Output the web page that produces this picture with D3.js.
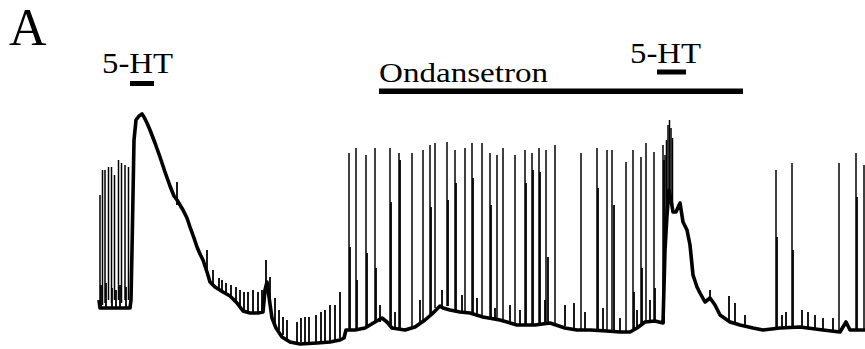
<!DOCTYPE html>
<html>
<head>
<meta charset="utf-8">
<script src="https://cdn.jsdelivr.net/npm/d3@7"></script>
<style>
  html, body { margin: 0; padding: 0; background: #fff; }
  svg { display: block; }
  .lbl { font-family: "Liberation Serif", "Tinos", "Nimbus Roman", "Nimbus Roman No9 L", "FreeSerif", "Noto Serif", "DejaVu Serif", "Noto Serif CJK SC", "Noto Serif CJK JP", "Times New Roman", Times, serif; fill: #000; }
</style>
</head>
<body>
<svg id="chart" width="865" height="349"></svg>
<script>
// Membrane potential recording: time in s, voltage in mV.

// Slow membrane potential envelope [t, mV]
const baseline = [
  [0, -65], [1, -67], [31, -67], [32, -65], [33, -52.5], [35, -25], [37, -20],
  [40, -19], [43, -18.5], [45, -19.25], [48, -20.75], [51, -22.5], [56, -25.75],
  [61, -29.25], [66, -33], [71, -36.5], [75, -39], [78, -40], [81, -41.25],
  [84, -42.5], [88, -44.5], [91, -46.75], [95, -49.5], [98, -51.75], [101, -53.5],
  [104, -55], [108, -58], [111, -60.5], [116, -61.75], [124, -63], [131, -64],
  [138, -65.75], [144, -67.75], [151, -68.25], [159, -68.25], [164, -68],
  [166, -62.5], [168, -60.5], [170, -64.25], [173, -69.5], [177, -72],
  [183, -74.25], [191, -75.5], [201, -76], [218, -75.75], [231, -75.5],
  [241, -75], [245, -74.5], [247, -72.5], [256, -72.5], [266, -72], [276, -70.5],
  [283, -69.5], [288, -70.5], [293, -72], [306, -72.5], [316, -71.75], [326, -70],
  [333, -68.5], [338, -67.25], [341, -66.5], [344, -67], [351, -67.5], [361, -68],
  [371, -68.25], [384, -69.25], [401, -70], [418, -71.25], [436, -71.25],
  [451, -70.75], [466, -72], [478, -72.5], [491, -72.5], [508, -72.75], [521, -73],
  [531, -73], [538, -72], [546, -70.5], [556, -70.25], [564, -70.75], [566, -52.5],
  [568, -43.75], [570, -37.5], [572, -40], [574, -43], [577, -43], [581, -40.75],
  [584, -45.5], [588, -47.5], [591, -51.25], [594, -58.75], [598, -61.75],
  [601, -63.25], [606, -65.5], [611, -64.5], [616, -66.25], [621, -68.75],
  [631, -70.5], [641, -71.25], [654, -72], [664, -72.5], [681, -72], [701, -71.75],
  [724, -72.5], [741, -73], [747, -70.5], [751, -72.5], [766, -72.5]
];

// Action potentials [t, foot mV, peak mV]
const spikes = [
  [1, -65, -38.75], [3.5, -66.25, -32.5], [6, -65.75, -32.5], [9.5, -65, -31.75],
  [12.5, -65.75, -31.75], [15.5, -65, -33.75], [19.5, -65, -30], [22.5, -65.75, -30.75],
  [26, -65, -31.25], [29.5, -65, -31.75],
  [250, -72.5, -28.25], [257, -72.5, -27], [267, -72, -28.75], [276, -70.5, -27],
  [291, -71.5, -27], [300, -72.5, -28.25], [313, -72, -28.25], [324, -70.5, -27.5],
  [331, -69, -26.25], [336, -67, -25.75], [348, -66.5, -25.5], [356, -67.5, -27.5],
  [366, -68, -27], [373, -68.5, -25.75], [383, -69, -25.75], [391, -69.5, -28.25],
  [398, -70, -28.75], [404, -70, -27], [416, -71, -28.75], [426, -71.25, -27.5],
  [433, -71.25, -28.25], [440, -71, -27], [447, -70.75, -27.5], [456, -71, -26.25],
  [482, -72.5, -28.25], [498, -72.5, -27], [508, -72.75, -27.5], [513, -72.75, -27.5],
  [527, -73, -30.5], [534, -72.5, -27.5], [542, -71.5, -29.25], [547, -70.5, -25.75],
  [555, -70.25, -28],
  [564, -70.75, -26.25], [566, -52.5, -28.75], [567.5, -47, -25], [569, -40, -21.25],
  [570.5, -38, -20], [572, -40, -22], [573.5, -43, -24.5],
  [677, -72, -32.5], [693, -72, -30.75], [740, -73, -30.75], [757, -72.5, -28.25],
  [765, -72.5, -31.25]
];

// Partially captured spikes riding next to full ones [t, foot mV, peak mV]
const partialSpikes = [
  [251, -72.5, -51.75], [258, -72.5, -60], [268, -72, -53.25], [277, -70.5, -57],
  [292, -71.5, -40.5], [301, -72.5, -30], [332, -69, -41.75], [349, -66.5, -40],
  [357, -67.5, -35.75], [374, -68.5, -34.5], [392, -69.5, -41.25], [427, -71.25, -35.75],
  [434, -71.25, -32.5], [441, -71, -33], [449, -70.75, -54.25], [499, -72.5, -37],
  [515, -72.75, -41.25], [535, -72.5, -63], [543, -71.5, -57], [556, -70.25, -62],
  [565, -70.75, -30], [678, -72, -49.25], [694, -72, -52.5], [758, -72.5, -39.25]
];

// Small synaptic potentials [t, foot mV, peak mV]
const epsps = [
  [2, -67, -61.25], [7, -67, -60.75], [13, -67, -62], [17, -67, -62.5], [21, -67, -61.25],
  [27, -67, -61.75],
  [78, -41.25, -35.5], [108, -57.5, -52.5], [114, -61.25, -57.5], [120, -62.5, -59.5],
  [123, -62.75, -60], [127, -63.25, -60.75], [132, -64.25, -61.25], [137, -65.5, -61.75],
  [141, -66.25, -62.5], [145, -67.5, -63], [149, -68, -63], [154, -68, -62.5],
  [159, -68, -63], [163, -68, -62.5], [167, -61.25, -55], [171, -65, -59.25],
  [176, -70.75, -64.5], [180, -72.5, -67.5], [184, -73.75, -69.25], [188, -75, -70],
  [198, -75.5, -70.5], [202, -75.5, -69.5], [206, -75.5, -69.25], [210, -75.5, -69.25],
  [217, -75.5, -68.75], [222, -75.5, -68], [226, -75.25, -67.5], [231, -75.25, -66.25],
  [236, -75, -66.25], [241, -74.5, -63],
  [281, -70.5, -66.25], [296, -72, -68], [321, -70.5, -65], [343, -67, -62.5],
  [363, -68, -63.75], [378, -68.75, -64.5], [396, -70, -67], [411, -70.5, -66.25],
  [421, -71.25, -67.5], [446, -70.5, -65], [466, -71.5, -66.25], [475, -72, -65.75],
  [486, -72.5, -68], [504, -72.5, -67], [521, -73, -69.5], [538, -72, -67.5],
  [551, -70.5, -65],
  [611, -64.5, -62.5], [630, -70.5, -64], [636, -70.75, -65.75], [646, -71.25, -68.75],
  [683, -72, -68.75], [687, -72, -68], [703, -71.75, -67.5], [709, -71.75, -68],
  [716, -72, -68.75], [724, -72.5, -69.5], [734, -72.75, -69.5]
];

// Drug applications [label, start s, end s]
const applications = [
  ["5-HT", 31, 55],
  ["Ondansetron", 280, 644],
  ["5-HT", 558, 587]
];

const svg = d3.select("#chart");

const x = d3.scaleLinear().domain([0, 766]).range([99, 865]);
const y = d3.scaleLinear().domain([-75, -15]).range([340, 100]);

// Panel letter
svg.append("text")
  .attr("class", "lbl")
  .attr("x", 9).attr("y", 44.5)
  .style("font-size", "52px")
  .text("A");

// Slow envelope
const line = d3.line().x(d => x(d[0])).y(d => y(d[1]));
svg.append("path")
  .datum(baseline)
  .attr("d", line)
  .attr("fill", "none")
  .attr("stroke", "#000")
  .attr("stroke-width", 3.6)
  .attr("stroke-linejoin", "round");

// Events drawn as vertical excursions from their foot to their peak
function events(data, cls, width) {
  svg.append("g").attr("class", cls)
    .selectAll("line")
    .data(data)
    .join("line")
    .attr("x1", d => x(d[0])).attr("x2", d => x(d[0]))
    .attr("y1", d => y(d[1])).attr("y2", d => y(d[2]))
    .attr("stroke", "#000")
    .attr("stroke-width", width);
}
events(epsps, "epsps", 1.8);
events(partialSpikes, "partial", 1.8);
events(spikes, "spikes", 1.5);

// Application bars and labels
const barY = [[81, 5], [88.5, 5.5], [69.5, 5]];
const bars = svg.append("g").attr("class", "applications");
applications.forEach((a, i) => {
  const [top, h] = barY[i];
  bars.append("rect")
    .attr("x", x(a[1])).attr("y", top)
    .attr("width", x(a[2]) - x(a[1])).attr("height", h)
    .attr("fill", "#000");
});

function htLabel(px, py) {
  svg.append("text")
    .attr("class", "lbl")
    .attr("x", px).attr("y", py)
    .style("font-size", "30px")
    .attr("textLength", 71)
    .attr("lengthAdjust", "spacingAndGlyphs")
    .text(applications[0][0]);
}
htLabel(102, 73.3);
htLabel(630, 63.3);

svg.append("text")
  .attr("class", "lbl")
  .attr("x", 379).attr("y", 81.5)
  .style("font-size", "28px")
  .attr("textLength", 169)
  .attr("lengthAdjust", "spacingAndGlyphs")
  .text(applications[1][0]);
</script>
</body>
</html>
